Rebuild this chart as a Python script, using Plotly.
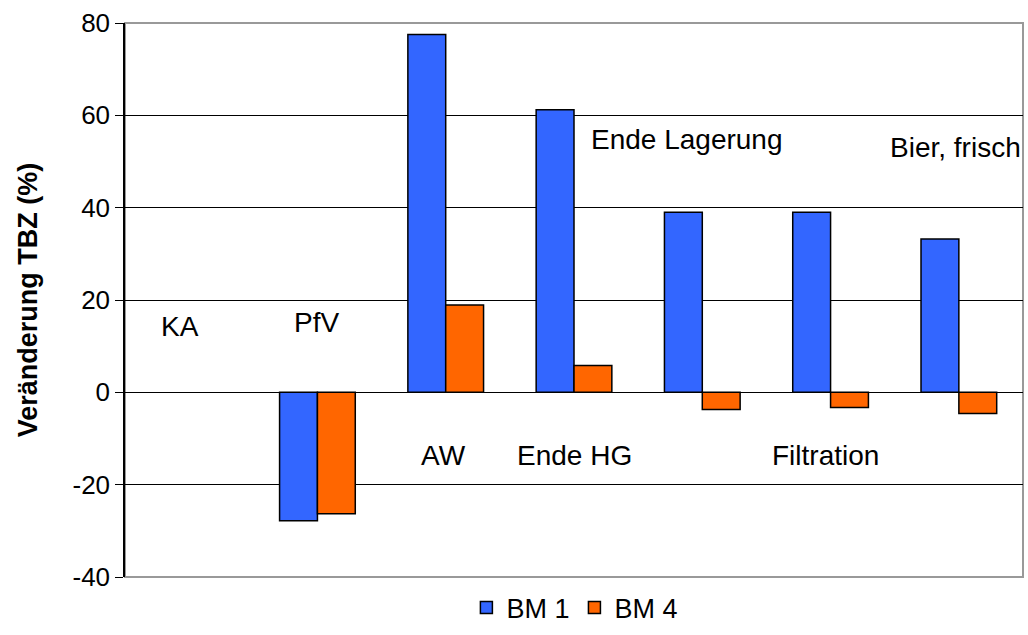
import plotly.graph_objects as go

# Process stages and TBZ change per yeast strain
stages = ["KA", "PfV", "AW", "Ende HG", "Ende Lagerung", "Filtration", "Bier, frisch"]
bm1 = [None, -27.8, 77.5, 61.2, 39.0, 39.0, 33.2]
bm4 = [None, -26.3, 18.9, 5.8, -3.7, -3.3, -4.6]
y_ticks = [-40, -20, 0, 20, 40, 60, 80]

# In-plot stage labels: (text, x position in category units, y value)
stage_labels = [
    ("KA", -0.07, 14.2),
    ("PfV", 0.99, 15.2),
    ("AW", 1.98, -13.6),
    ("Ende HG", 3.0, -13.6),
    ("Ende Lagerung", 3.88, 54.8),
    ("Filtration", 4.96, -13.6),
    ("Bier, frisch", 5.97, 53.1),
]

FONT = "Liberation Sans, Arial, sans-serif"

fig = go.Figure()
fig.add_trace(go.Bar(
    name="BM 1", x=stages, y=bm1,
    marker=dict(color="#3366FF", line=dict(color="black", width=1.5)),
))
fig.add_trace(go.Bar(
    name="BM 4", x=stages, y=bm4,
    marker=dict(color="#FF6600", line=dict(color="black", width=1.5)),
))

for text, xpos, ypos in stage_labels:
    fig.add_annotation(
        x=xpos, y=ypos, xref="x", yref="y", text=text, showarrow=False,
        font=dict(family=FONT, size=28, color="black"),
    )

# Gray frame on top/right/bottom of the plot area
fig.add_shape(type="rect", xref="paper", yref="paper", x0=0, x1=1, y0=0, y1=1,
              line=dict(color="#999999", width=2), layer="below")

fig.update_layout(
    width=1028, height=635,
    margin=dict(l=125, r=5, t=23, b=58, autoexpand=False),
    paper_bgcolor="white", plot_bgcolor="white",
    barmode="group", bargap=0.41, bargroupgap=0,
    font=dict(family=FONT, size=26, color="black"),
    showlegend=True,
    legend=dict(orientation="h", x=0.501, xanchor="center",
                yref="container", y=0.004, yanchor="bottom",
                font=dict(family=FONT, size=27), itemwidth=30, traceorder="normal",
                tracegroupgap=0),
    xaxis=dict(showticklabels=False, showgrid=False, zeroline=False,
               showline=False, ticks="", range=[-0.5, 6.5]),
    yaxis=dict(range=[-40, 80], tickvals=y_ticks, ticktext=[str(v) for v in y_ticks],
               showgrid=True, gridcolor="black", gridwidth=1,
               zeroline=False, showline=True, linecolor="black", linewidth=1.5,
               ticks="outside", ticklen=8, tickcolor="black",
               tickfont=dict(family=FONT, size=26),
               title=dict(text="<b>Veränderung TBZ (%)</b>", standoff=27,
                          font=dict(family=FONT, size=27))),
)

fig.write_html("out.html")
